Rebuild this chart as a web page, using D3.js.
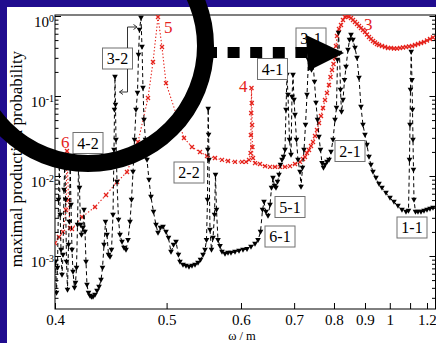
<!DOCTYPE html>
<html>
<head>
<meta charset="utf-8">
<script src="https://cdn.jsdelivr.net/npm/d3@7"></script>
<style>
html, body { margin: 0; padding: 0; background: #200c8f; }
svg { display: block; }
text { font-family: "Liberation Serif", "DejaVu Serif", serif; }
</style>
</head>
<body>
<svg id="chart" width="436" height="343"></svg>
<script>
// Maximal production probability vs. ω/m (black: triangles, red: crosses)
const omegaBlack = [
  0.40036, 0.40108, 0.40180, 0.40253, 0.40311, 0.40376, 0.40435, 0.40508, 0.40582, 0.40656,
  0.40715, 0.40775, 0.40842, 0.40917, 0.40992, 0.41052, 0.41120, 0.41181, 0.41257, 0.41333,
  0.41448, 0.41526, 0.41603, 0.41681, 0.41759, 0.41837, 0.41915, 0.41994, 0.42113, 0.42193,
  0.42273, 0.42353, 0.42433, 0.42555, 0.42677, 0.42800, 0.42923, 0.43089, 0.43256, 0.43424,
  0.43594, 0.43722, 0.43851, 0.43980, 0.44111, 0.44242, 0.44374, 0.44507, 0.44640, 0.44729,
  0.44774, 0.44819, 0.44864, 0.44909, 0.45000, 0.45137, 0.45274, 0.45458, 0.45644, 0.45832,
  0.46021, 0.46211, 0.46355, 0.46500, 0.46646, 0.46792, 0.46940, 0.47039, 0.47138, 0.47288,
  0.47389, 0.47489, 0.47591, 0.47743, 0.47897, 0.48103, 0.48312, 0.48575, 0.48840, 0.49055,
  0.49326, 0.49600, 0.49933, 0.50214, 0.50498, 0.50785, 0.51076, 0.51369, 0.51547, 0.51907,
  0.52272, 0.52641, 0.53016, 0.53397, 0.53783, 0.54109, 0.54439, 0.54706, 0.54907, 0.55043,
  0.55084, 0.55138, 0.55193, 0.55248, 0.55385, 0.55591, 0.55800, 0.56010, 0.56151, 0.56293,
  0.56506, 0.56794, 0.57084, 0.57526, 0.57974, 0.58429, 0.59048, 0.59679, 0.60324, 0.60984,
  0.61657, 0.62347, 0.62873, 0.63319, 0.63680, 0.63954, 0.64323, 0.64696, 0.65073, 0.65359,
  0.65647, 0.65938, 0.66231, 0.66528, 0.66826, 0.67128, 0.67432, 0.67739, 0.68049, 0.68257,
  0.68466, 0.68677, 0.68995, 0.69317, 0.69533, 0.69750, 0.69969, 0.70189, 0.70521, 0.70857,
  0.71310, 0.71539, 0.71884, 0.72233, 0.72586, 0.72941, 0.73301, 0.73663, 0.74030, 0.74400,
  0.74774, 0.75151, 0.75533, 0.75918, 0.76308, 0.76701, 0.77098, 0.77500, 0.78042, 0.78592,
  0.79149, 0.79714, 0.80288, 0.80723, 0.81016, 0.81311, 0.81609, 0.81908, 0.82210, 0.82667,
  0.83129, 0.83596, 0.84226, 0.84706, 0.85191, 0.85846, 0.86512, 0.87188, 0.87874, 0.88571,
  0.89280, 0.90000, 0.90732, 0.91476, 0.92231, 0.93000, 0.94177, 0.95385, 0.96623, 0.98326,
  1.00090, 1.01918, 1.03814, 1.05782, 1.07826, 1.09144, 1.09681, 1.09951, 1.10222, 1.10605,
  1.11045, 1.11322, 1.11600, 1.11880, 1.12161, 1.13013, 1.14462, 1.16250, 1.18095, 1.20000,
  1.21967, 1.24000
];
const probBlack = [
  8.41e-4, 3.45e-4, 7.08e-4, 5.01e-3, 0.0137, 3.26e-3, 1.19e-3, 5.79e-4, 1.03e-3, 6.68e-3,
  0.0159, 5.01e-3, 8.41e-4, 3.76e-4, 1.37e-3, 2.66e-3, 0.0137, 4.34e-3, 1.19e-3, 6.31e-4,
  3.98e-4, 4.60e-4, 7.08e-4, 2.44e-3, 0.0126, 7.08e-3, 2.44e-3, 1.83e-3, 2.24e-3, 3.76e-3,
  2.00e-3, 8.41e-4, 4.34e-4, 3.45e-4, 3.16e-4, 3.07e-4, 3.07e-4, 3.26e-4, 3.65e-4, 4.10e-4,
  5.01e-4, 7.08e-4, 1.37e-3, 2.66e-3, 1.83e-3, 1.03e-3, 9.72e-4, 1.19e-3, 3.26e-3, 0.0211,
  0.0668, 0.173, 0.0772, 0.0282, 8.41e-3, 2.82e-3, 1.83e-3, 1.50e-3, 1.26e-3, 1.19e-3,
  1.58e-3, 2.66e-3, 5.01e-3, 0.0112, 0.0282, 0.0668, 0.109, 0.326, 0.668, 0.944,
  0.410, 0.126, 0.0501, 0.0282, 0.0159, 8.91e-3, 5.46e-3, 3.55e-3, 2.44e-3, 1.94e-3,
  2.24e-3, 2.30e-3, 2.00e-3, 1.68e-3, 1.12e-3, 1.37e-3, 1.50e-3, 1.03e-3, 8.41e-4, 7.72e-4,
  7.50e-4, 7.29e-4, 7.50e-4, 7.72e-4, 8.18e-4, 8.91e-4, 1.03e-3, 1.19e-3, 1.58e-3, 5.01e-3,
  0.0211, 0.0688, 0.0326, 0.0159, 2.11e-3, 1.19e-3, 1.68e-3, 3.26e-3, 0.0103, 3.76e-3,
  1.58e-3, 1.33e-3, 1.12e-3, 1.06e-3, 1.09e-3, 1.09e-3, 1.12e-3, 1.16e-3, 1.19e-3, 1.22e-3,
  1.30e-3, 1.41e-3, 1.58e-3, 2.00e-3, 3.76e-3, 4.73e-3, 3.55e-3, 3.16e-3, 4.34e-3, 7.08e-3,
  9.44e-3, 7.50e-3, 7.08e-3, 8.41e-3, 0.0103, 0.0137, 0.0159, 0.0173, 0.0211, 0.0668,
  0.183, 0.103, 0.0282, 0.0183, 0.0972, 0.183, 0.0891, 0.0579, 0.0282, 0.0159,
  0.0112, 7.29e-3, 0.0126, 0.0211, 0.0434, 0.103, 0.282, 0.434, 0.211, 0.266,
  0.150, 0.0818, 0.0501, 0.0307, 0.0211, 0.0145, 0.0126, 0.0137, 0.0150, 0.0159,
  0.0200, 0.0282, 0.0501, 0.0708, 0.282, 0.613, 0.345, 0.119, 0.0631, 0.0891,
  0.158, 0.230, 0.376, 0.501, 0.579, 0.501, 0.398, 0.299, 0.168, 0.0729,
  0.0434, 0.0326, 0.0244, 0.0173, 0.0137, 0.0112, 9.44e-3, 7.94e-3, 7.08e-3, 6.13e-3,
  5.31e-3, 4.73e-3, 4.22e-3, 3.76e-3, 3.55e-3, 3.65e-3, 0.0159, 0.0434, 0.119, 0.355,
  0.158, 0.0668, 0.0282, 0.0119, 5.01e-3, 3.55e-3, 3.55e-3, 3.55e-3, 3.65e-3, 3.76e-3,
  3.87e-3, 3.98e-3
];
const omegaRed = [
  0.40000, 0.40289, 0.40582, 0.40804, 0.40879, 0.40992, 0.41105, 0.41257, 0.42034, 0.43089,
  0.44024, 0.45000, 0.45926, 0.46989, 0.48000, 0.48522, 0.49055, 0.49490, 0.49933, 0.52028,
  0.53016, 0.54044, 0.54975, 0.56081, 0.57084, 0.57974, 0.59048, 0.60162, 0.60817, 0.61319,
  0.61590, 0.61641, 0.61692, 0.61743, 0.61794, 0.61846, 0.61897, 0.62000, 0.62347, 0.63229,
  0.64138, 0.65073, 0.66035, 0.67027, 0.68049, 0.69103, 0.70189, 0.71310, 0.72000, 0.72467,
  0.72941, 0.73421, 0.73907, 0.74400, 0.74899, 0.75405, 0.75918, 0.76438, 0.76965, 0.77500,
  0.78042, 0.78592, 0.79009, 0.79431, 0.79857, 0.80288, 0.80578, 0.80870, 0.81460, 0.82059,
  0.82667, 0.83284, 0.83910, 0.84545, 0.85191, 0.85846, 0.86512, 0.87188, 0.87874, 0.88571,
  0.89280, 0.90000, 0.90732, 0.91476, 0.92231, 0.93000, 0.93782, 0.94576, 0.95385, 0.96623,
  0.97895, 0.99200, 1.00541, 1.01918, 1.03333, 1.04789, 1.06286, 1.07826, 1.09412, 1.11045,
  1.12727, 1.14462, 1.16250, 1.18095, 1.20000, 1.21967, 1.24000
];
const probRed = [
  1.45e-3, 1.73e-3, 2.00e-3, 3.76e-3, 0.0205, 5.01e-3, 2.24e-3, 2.18e-3, 3.07e-3, 4.10e-3,
  5.79e-3, 8.41e-3, 0.0112, 0.0266, 0.0944, 0.266, 0.972, 0.410, 0.145, 0.0299,
  0.0230, 0.0200, 0.0178, 0.0168, 0.0159, 0.0154, 0.0150, 0.0150, 0.0150, 0.0159,
  0.0194, 0.0326, 0.0613, 0.126, 0.0818, 0.0434, 0.0230, 0.0168, 0.0145, 0.0141,
  0.0133, 0.0130, 0.0130, 0.0130, 0.0130, 0.0133, 0.0141, 0.0150, 0.0163, 0.0173,
  0.0194, 0.0211, 0.0237, 0.0266, 0.0316, 0.0376, 0.0460, 0.0562, 0.0708, 0.0891,
  0.109, 0.137, 0.173, 0.211, 0.251, 0.299, 0.422, 0.562, 0.688, 0.772,
  0.891, 0.972, 1.000, 0.986, 0.944, 0.891, 0.841, 0.794, 0.750, 0.708,
  0.668, 0.631, 0.587, 0.546, 0.516, 0.487, 0.466, 0.447, 0.434, 0.422,
  0.410, 0.398, 0.398, 0.393, 0.393, 0.398, 0.404, 0.410, 0.416, 0.422,
  0.434, 0.447, 0.460, 0.473, 0.494, 0.516, 0.538
];
const xTickValues = [0.4, 0.5, 0.6, 0.7, 0.8, 0.9, 1.0, 1.1, 1.2];
const xTickLabels = ["0.4", "0.5", "0.6", "0.7", "0.8", "0.9", "1", "", "1.2"];
const yTickExponents = [0, -1, -2, -3];
const resonanceLabels = ["3-2", "4-2", "2-2", "4-1", "3-1", "2-1", "5-1", "6-1", "1-1"];
const peakNumbers = ["5", "6", "4", "3"];

// ---- layout ----
const W = 436, H = 343;
const plot = { left: 55, right: 435.5, top: 15, bottom: 309 };
const boxCenters = [[117.5, 58.5], [88, 143], [189, 172.5], [272.5, 69], [311, 38.5],
                    [350, 151], [290, 207], [280, 236.5], [412, 227.5]];
const numberAnchors = [[164, 33], [61, 148], [239, 92], [364, 30]];
const INK = "#000", RED = "#e5231c";

const svg = d3.select("#chart");

// page background and white panel
svg.append("rect").attr("width", W).attr("height", H).attr("fill", "#200c8f");
svg.append("rect").attr("x", 7).attr("y", 7).attr("width", W - 7).attr("height", H - 7).attr("fill", "#fff");

// scales: x is linear in 1/ω, y is logarithmic
const x = d3.scalePow().exponent(-1).domain([0.4, 1.2575]).range([plot.left, plot.right]);
const y = d3.scaleLog().domain([2.175e-4, 1.0292]).range([plot.bottom, plot.top]);

svg.append("clipPath").attr("id", "plotClip").append("rect")
  .attr("x", plot.left).attr("y", plot.top)
  .attr("width", plot.right - plot.left).attr("height", plot.bottom - plot.top);

// ---- axes ----
const bottomAxis = d3.axisBottom(x).tickValues(xTickValues)
  .tickFormat((d, i) => xTickLabels[i]).tickSizeInner(-6).tickSizeOuter(0).tickPadding(5.5);
const gx = svg.append("g").attr("transform", `translate(0,${plot.bottom})`).call(bottomAxis);
gx.select(".domain").remove();
gx.selectAll("text").attr("font-size", 15).attr("font-family", "Liberation Serif, serif").attr("fill", INK);

const majors = yTickExponents.map(e => Math.pow(10, e));
const minors = [];
for (let e = -4; e < 0; e++) for (let k = 2; k <= 9; k++) {
  const v = k * Math.pow(10, e);
  if (v >= y.domain()[0] && v <= y.domain()[1]) minors.push(v);
}
function yAxes(gen, tx) {
  const g1 = svg.append("g").attr("transform", `translate(${tx},0)`)
    .call(gen(y).tickValues(majors).tickFormat("").tickSizeInner(-6).tickSizeOuter(0));
  g1.select(".domain").remove();
  const g2 = svg.append("g").attr("transform", `translate(${tx},0)`)
    .call(gen(y).tickValues(minors).tickFormat("").tickSizeInner(-3.5).tickSizeOuter(0));
  g2.select(".domain").remove();
}
yAxes(d3.axisLeft, plot.left);
yAxes(d3.axisRight, plot.right);

// decade labels 10^n
yTickExponents.forEach(e => {
  const t = svg.append("text").attr("x", 54).attr("y", y(Math.pow(10, e)) + 11.5)
    .attr("text-anchor", "end").attr("font-size", 15).attr("fill", INK);
  t.append("tspan").text("10");
  t.append("tspan").attr("dy", -5.5).attr("font-size", 10).text(String(e));
});

// frame
svg.append("rect").attr("x", plot.left).attr("y", plot.top)
  .attr("width", plot.right - plot.left).attr("height", plot.bottom - plot.top)
  .attr("fill", "none").attr("stroke", INK).attr("stroke-width", 1);

// axis titles
svg.append("text").attr("x", 242).attr("y", 340.2).attr("text-anchor", "middle")
  .attr("font-size", 12.5).attr("fill", INK).text("ω / m");
svg.append("text").attr("transform", "translate(21.5,159) rotate(-90)")
  .attr("text-anchor", "middle").attr("font-size", 17).attr("fill", INK)
  .text("maximal production probability");

// ---- series ----
const black = omegaBlack.map((w, i) => ({ w, p: probBlack[i] }));
const red = omegaRed.map((w, i) => ({ w, p: probRed[i] }));
const line = d3.line().x(d => x(d.w)).y(d => y(d.p));
const gPlot = svg.append("g").attr("clip-path", "url(#plotClip)");

gPlot.append("path").datum(red).attr("d", line).attr("fill", "none")
  .attr("stroke", RED).attr("stroke-width", 1.1).attr("stroke-dasharray", "1.4,2");
gPlot.append("g").selectAll("path").data(red).join("path")
  .attr("transform", d => `translate(${x(d.w)},${y(d.p)})`)
  .attr("d", "M-2,-2L2,2M-2,2L2,-2").attr("stroke", RED).attr("stroke-width", 1.3).attr("fill", "none");

gPlot.append("path").datum(black).attr("d", line).attr("fill", "none")
  .attr("stroke", INK).attr("stroke-width", 1).attr("stroke-dasharray", "4,3");
gPlot.append("g").selectAll("path").data(black).join("path")
  .attr("transform", d => `translate(${x(d.w)},${y(d.p)})`)
  .attr("d", "M-2.8,-2.2L2.8,-2.2L0,2.8Z").attr("fill", INK);

// ---- annotations ----
resonanceLabels.forEach((txt, i) => {
  const [cx, cy] = boxCenters[i];
  svg.append("rect").attr("x", cx - 15).attr("y", cy - 10.5).attr("width", 30).attr("height", 21)
    .attr("fill", "#fff").attr("stroke", "#707070").attr("stroke-width", 1);
  svg.append("text").attr("x", cx).attr("y", cy + 5.5).attr("text-anchor", "middle")
    .attr("font-size", 16).attr("fill", INK).text(txt);
});
peakNumbers.forEach((txt, i) => {
  const [ax, ay] = numberAnchors[i];
  svg.append("text").attr("x", ax).attr("y", ay).attr("font-size", 17).attr("fill", RED).text(txt);
});

// bracket arrows for the 3-2 doublet
const bracket = svg.append("g").attr("fill", "none").attr("stroke", "#333").attr("stroke-width", 1);
bracket.append("path").attr("d", "M127.5,48V27H137M133.5,24.5L137,27L133.5,29.5");
bracket.append("path").attr("d", "M127.5,69V92H119.5M123,89.5L119.5,92L123,94.5");

// thick dashed arrow and ring overlays
svg.append("line").attr("x1", 205).attr("x2", 307.5).attr("y1", 52.5).attr("y2", 52.5)
  .attr("stroke", "#000").attr("stroke-width", 11).attr("stroke-dasharray", "12,10.6");
svg.append("path").attr("d", "M306,35L308,71L344,53Z").attr("fill", "#000");
svg.append("circle").attr("cx", 88).attr("cy", 46).attr("r", 117.5)
  .attr("fill", "none").attr("stroke", "#000").attr("stroke-width", 17);
</script>
</body>
</html>
